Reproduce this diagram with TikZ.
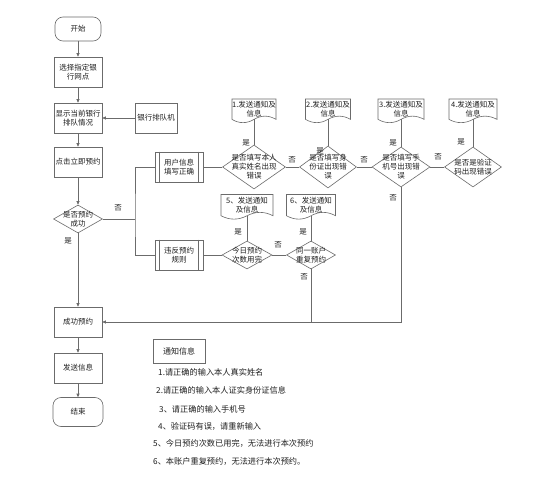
\documentclass[tikz,border=0pt]{standalone}
\usepackage{fontspec}
\setmainfont{Noto Sans CJK SC}
\usetikzlibrary{arrows.meta,shapes.geometric,calc}
\definecolor{lc}{gray}{0.42}
\definecolor{tc}{gray}{0.12}
\newcommand\mkdoc[6]{%
  \draw[ln, fill=white] ({#2-#4/2},{#3-#5/2}) -- ({#2+#4/2},{#3-#5/2}) -- ({#2+#4/2},{#3+0.35*#5})
   .. controls ({#2+0.3333*#4},{#3+0.17*#5}) and ({#2+0.1667*#4},{#3+0.17*#5}) .. ({#2},{#3+0.35*#5})
   .. controls ({#2-0.1667*#4},{#3+0.53*#5}) and ({#2-0.3333*#4},{#3+0.53*#5}) .. ({#2-#4/2},{#3+0.35*#5}) -- cycle;
  \node[dtext] (#1) at (#2,{#3-0.06*#5}) {#6};
  \coordinate (#1b) at (#2,{#3+0.35*#5});
}
\begin{document}
\begin{tikzpicture}[x=1pt,y=-1pt,
  ln/.style={draw=lc, line width=0.6pt},
  arr/.style={ln, -{Triangle[length=3.5pt,width=3pt]}},
  box/.style={draw=lc, line width=0.6pt, minimum width=48pt, minimum height=30pt, inner sep=1pt, align=center, font=\fontsize{7.5}{9}\selectfont, text=tc},
  term/.style={box, rounded corners=8pt},
  dia/.style={draw=lc, line width=0.6pt, diamond, inner sep=0pt},
  dtext/.style={font=\fontsize{7.5}{9}\selectfont, align=center, inner sep=0pt, text=tc},
  lab/.style={font=\fontsize{7.5}{8}\selectfont, text=tc, inner sep=0pt},
  note/.style={font=\fontsize{8.2}{9}\selectfont, text=tc, inner sep=0pt, anchor=west}
]
\useasboundingbox (0,0) rectangle (544,500);
\fill[white] (0,0) rectangle (544,500);

% left column
\node[term, minimum width=46pt, minimum height=24pt] (start) at (78,29) {开始};
\node[box] (sel) at (78,72) {选择指定银\\行网点};
\node[box] (show) at (78,118) {显示当前银行\\排队情况};
\node[box, minimum width=42pt] (queue) at (156,118) {银行排队机};
\node[box] (click) at (78,162) {点击立即预约};
\node[dia, minimum width=49pt, minimum height=28pt] (d0) at (78,219) {};
\node[dtext] (d0t) at (d0) {是否预约\\成功};
\node[box] (ok) at (78,322) {成功预约};
\node[box] (send) at (78,368) {发送信息};
\node[term, minimum width=50pt, minimum height=29pt] (end) at (78,412) {结束};

\draw[arr] (start) -- (sel);
\draw[arr] (sel) -- (show);
\draw[arr] (queue) -- (show);
\draw[arr] (show) -- (click);
\draw[arr] (click) -- (d0);
\draw[arr] (d0) -- (ok);
\draw[arr] (ok) -- (send);
\draw[arr] (send) -- (end);
\node[lab] (l0y) at (68,241) {是};
\node[lab] (l0n) at (118,208) {否};

% process boxes
\node[box] (user) at (179,167) {用户信息\\填写正确};
\node[box] (viol) at (179,255) {违反预约\\规则};
\foreach \n in {user,viol}{
  \draw[ln] ([xshift=4.7pt]\n.north west) -- ([xshift=4.7pt]\n.south west);
  \draw[ln] ([xshift=-4.7pt]\n.north east) -- ([xshift=-4.7pt]\n.south east);
}
\coordinate (bus) at (135,219);
\draw[ln] (d0.east) -- (bus);
\draw[ln] (user.west) -| (bus) |- (viol.west);

% row 1 diamonds
\node[dia, minimum width=63pt, minimum height=44pt] (d1) at (254,167) {};
\node[dtext] (d1t) at (d1) {是否填写本人\\真实姓名出现\\错误};
\node[dia, minimum width=57pt, minimum height=42pt] (d2) at (328,167) {};
\node[dtext] (d2t) at (d2) {是否填写身\\份证出现错\\误};
\node[dia, minimum width=58pt, minimum height=40pt] (d3) at (401,167) {};
\node[dtext] (d3t) at (d3) {是否填写手\\机号出现错\\误};
\node[dia, minimum width=57pt, minimum height=40pt] (d4) at (473,167) {};
\node[dtext] (d4t) at (d4) {是否是验证\\码出现错误};

\mkdoc{doc1}{254}{111}{44}{24}{1.发送通知及\\信息}
\mkdoc{doc2}{328}{111}{45}{24}{2.发送通知及\\信息}
\mkdoc{doc3}{401}{111}{46}{24}{3.发送通知及\\信息}
\mkdoc{doc4}{473}{111}{48}{24}{4.发送通知及\\信息}

\draw[ln] (user) -- (d1);
\draw[ln] (d1) -- (d2);
\draw[ln] (d2) -- (d3);
\draw[ln] (d3) -- (d4);
\draw[ln] (d1.north) -- (doc1b);
\draw[ln] (d2.north) -- (doc2b);
\draw[ln] (d3.north) -- (doc3b);
\draw[ln] (d4.north) -- (doc4b);

\node[lab] (l1y) at (246,143) {是};
\node[lab] (l2y) at (320,151) {是};
\node[lab] (l3y) at (393,143) {是};
\node[lab] (l4y) at (461,142) {是};
\node[lab] (l12) at (292,160) {否};
\node[lab] (l23) at (364,160) {否};
\node[lab] (l34) at (438,157) {否};
\node[lab] (l3n) at (393,198) {否};

% row 2
\node[dia, minimum width=50pt, minimum height=28pt] (d5) at (247,255) {};
\node[dtext] (d5t) at (d5) {今日预约\\次数用完};
\node[dia, minimum width=49pt, minimum height=28pt] (d6) at (311,255) {};
\node[dtext] (d6t) at (d6) {同一账户\\重复预约};
\mkdoc{doc5}{247}{207}{52}{25}{5、发送通知\\及信息}
\mkdoc{doc6}{311}{207}{49}{25}{6、发送通知\\及信息}
\draw[ln] (viol) -- (d5);
\draw[ln] (d5) -- (d6);
\draw[ln] (d5.north) -- (doc5b);
\draw[ln] (d6.north) -- (doc6b);
\node[lab] (l5y) at (238,232) {是};
\node[lab] (l6y) at (303,232) {是};
\node[lab] (l56) at (278,245) {否};
\node[lab] (l6n) at (304,277) {否};

\draw[arr] (d3.south) |- (ok.east);
\draw[ln] (d6.south) -- (d6.south |- ok.east);

% notes
\node[box, minimum width=52pt, minimum height=24pt, font=\fontsize{8}{9}\selectfont] (notebox) at (179,351) {通知信息};
\node[note] (n1) at (158,372) {1.请正确的输入本人真实姓名};
\node[note] (n2) at (156,390) {2.请正确的输入本人证实身份证信息};
\node[note] (n3) at (159,409) {3、请正确的输入手机号};
\node[note] (n4) at (158,426) {4、验证码有误，请重新输入};
\node[note] (n5) at (153,443) {5、今日预约次数已用完，无法进行本次预约};
\node[note] (n6) at (153,461) {6、本账户重复预约，无法进行本次预约。};
\end{tikzpicture}
\end{document}
